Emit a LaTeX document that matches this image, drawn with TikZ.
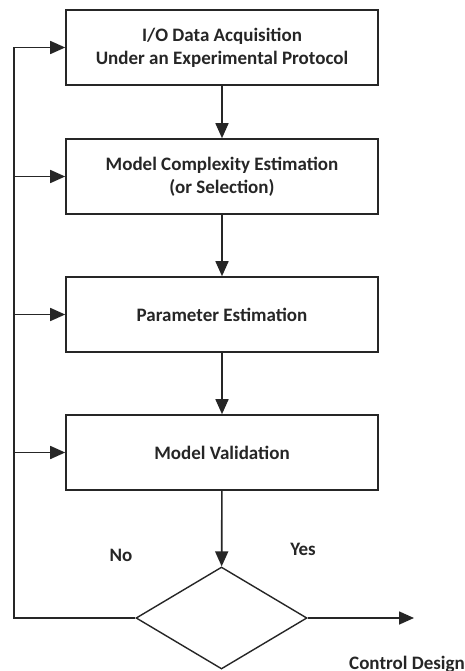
\documentclass[tikz,border=0pt]{standalone}
\usepackage{fontspec}
\setmainfont{Carlito}
\usetikzlibrary{shapes.geometric,arrows.meta}
\begin{document}
\begin{tikzpicture}[x=1pt,y=1pt,
  font=\fontsize{19}{23}\selectfont\bfseries,
  stagebox/.style={draw=black!85,line width=1.6pt,minimum width=312pt,minimum height=75pt,
    inner sep=0pt,align=center,text=black!85},
  decision/.style={draw=black!85,line width=1.4pt,shape=diamond,minimum width=171pt,
    minimum height=102pt,inner sep=0pt},
  flow/.style={draw=black!85,line width=1.6pt,-{Triangle[length=15pt,width=13pt]}},
  label/.style={text=black!85,inner sep=0pt}]
\useasboundingbox (0,0) rectangle (464,-671);
\fill[white] (0,0) rectangle (464,-671);

% processing stages
\node[stagebox] (b1) at (222,-47.5) {I/O Data Acquisition\\Under an Experimental Protocol};
\node[stagebox] (b2) at (222,-176.5) {Model Complexity Estimation\\(or Selection)};
\node[stagebox] (b3) at (222,-314.5) {Parameter Estimation};
\node[stagebox] (b4) at (222,-452.5) {Model Validation};

% validation decision
\node[decision] (dec) at (221.5,-618) {};

% feedback rail on the left and outgoing path
\coordinate (xl) at (14,0);
\coordinate (out) at (414,-618);

\draw[flow] (b1) -- (b2);
\draw[flow] (b2) -- (b3);
\draw[flow] (b3) -- (b4);
\draw[flow] (b4) -- (dec);

\draw[flow] (dec.west) -- (dec.west -| xl) |- (b1.west);
\draw[flow] (b2.west -| xl) -- (b2.west);
\draw[flow] (b3.west -| xl) -- (b3.west);
\draw[flow] (b4.west -| xl) -- (b4.west);
\draw[flow] (dec.east) -- (out);

% branch labels
\node[label] (no) at (121,-555) {No};
\node[label] (yes) at (303,-549) {Yes};
\node[label,anchor=west] (cd) at (349,-664) {Control Design};
\end{tikzpicture}
\end{document}
